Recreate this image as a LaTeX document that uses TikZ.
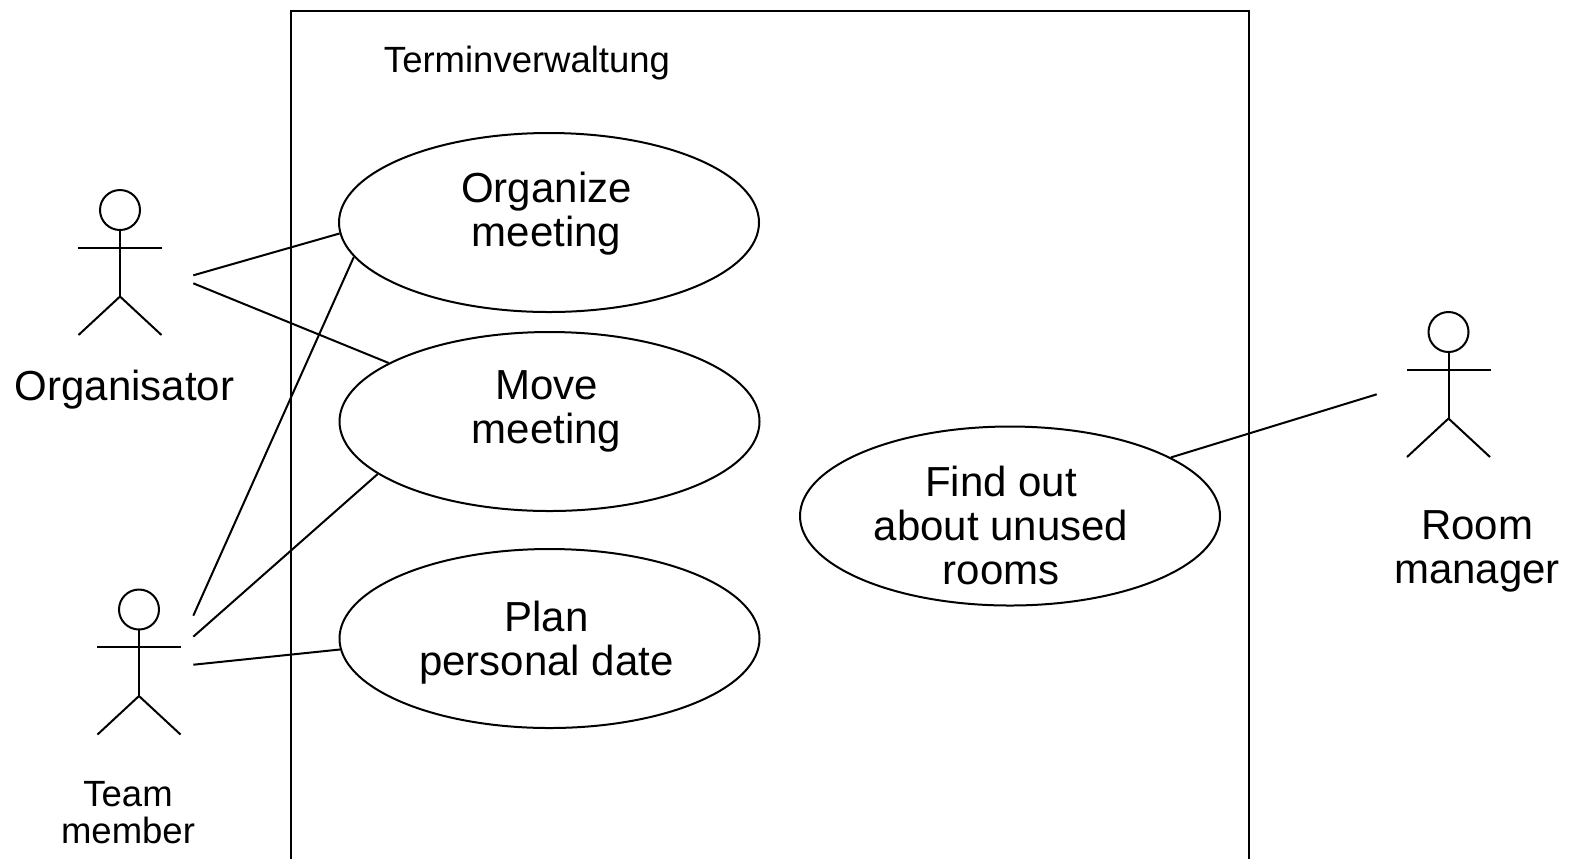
\documentclass[tikz,border=0pt]{standalone}
\usepackage{fontspec}
\setmainfont{Liberation Sans}
\usetikzlibrary{shapes.geometric}
\begin{document}
\begin{tikzpicture}[x=0.5pt,y=-0.5pt,line width=1pt,
  usecase/.style={draw,ellipse,minimum width=210pt,minimum height=89.5pt,inner sep=0pt},
  bigtext/.style={font=\fontsize{21pt}{22pt}\selectfont,align=center,inner sep=0pt},
  smalltext/.style={font=\fontsize{18.25pt}{18.5pt}\selectfont,align=center,inner sep=0pt},
  assoc/.style={draw,line width=1pt},
  actor/.pic={
    \draw (0,0) circle[radius=10pt];
    \draw (0,20) -- (0,86.5);
    \draw (-42,37.5) -- (42,37.5);
    \draw (-41.5,125) -- (0,86.5) -- (41.5,125);
  }]
\useasboundingbox (0,0) rectangle (1572,859);
\fill[white] (0,0) rectangle (1572,859);

% system boundary
\draw (291,859) -- (291,11) -- (1249,11) -- (1249,859);
\node[smalltext] (syslbl) at (527,63) {Terminverwaltung};

% actors
\pic (orgfig) at (120,210) {actor};
\node[bigtext] (orglbl) at (124.5,389.5) {Organisator};
\pic (teamfig) at (139,609.5) {actor};
\node[smalltext] (teamlbl) at (128,813) {Team\\member};
\pic (roomfig) at (1448.5,332) {actor};
\node[bigtext] (roomlbl) at (1477,551) {Room\\manager};

% use cases
\node[usecase] (uc1) at (549,222.5) {};
\node[bigtext] (uc1t) at (546.5,214) {Organize\\meeting};
\node[usecase] (uc2) at (549.5,421.5) {};
\node[bigtext] (uc2t) at (546.5,411.5) {Move\\meeting};
\node[usecase] (uc3) at (549.5,638.5) {};
\node[bigtext] (uc3t) at (546.5,643) {Plan\\personal date};
\node[usecase] (uc4) at (1010,516) {};
\node[bigtext] (uc4t) at (1001,525) {Find out\\about unused\\rooms};

% connector start points at the actors
\coordinate (oa1) at (193.3,275.3);
\coordinate (oa2) at (193.3,283.3);
\coordinate (ta1) at (193.3,615.7);
\coordinate (ta2) at (193.3,636.7);
\coordinate (ta3) at (193.3,664.7);
\coordinate (ra1) at (1376.7,394.3);

% associations
\draw[assoc] (oa1) -- (uc1.183.2);
\draw[assoc] (oa2) -- (uc2.160.3);
\draw[assoc] (ta1) -- (uc1.190.8);
\draw[assoc] (ta2) -- (uc2.197.5);
\draw[assoc] (ta3) -- (uc3.183.2);
\draw[assoc] (ra1) -- (uc4.20);
\end{tikzpicture}
\end{document}
